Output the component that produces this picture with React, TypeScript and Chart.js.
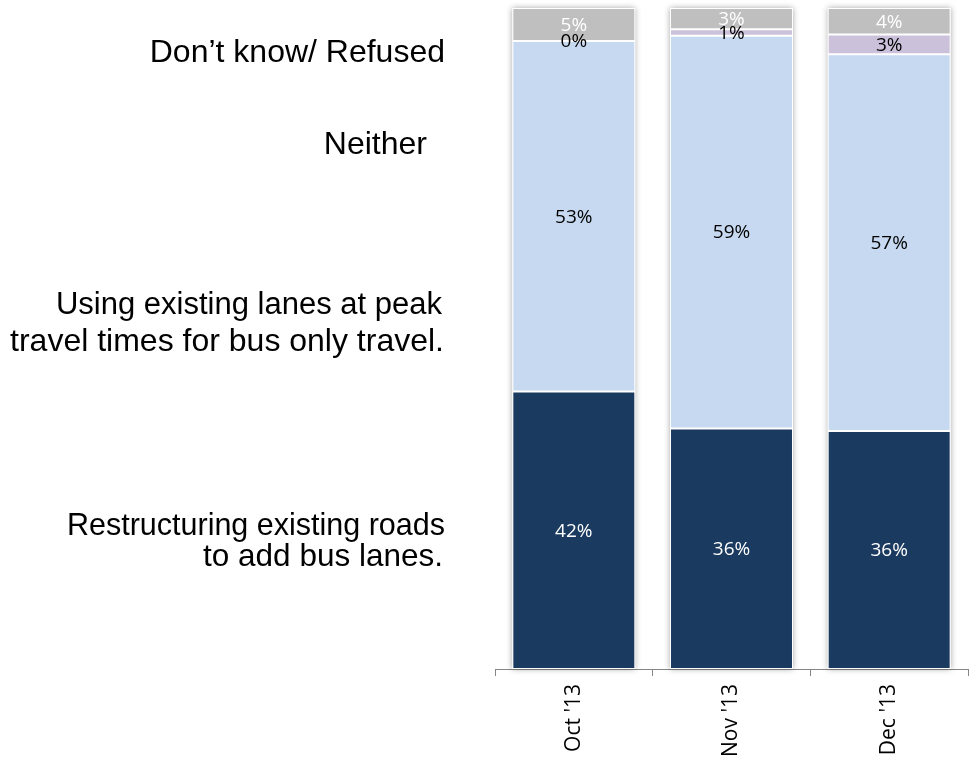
import React, { useEffect, useRef } from "react";
import { Chart, registerables } from "chart.js";

Chart.register(...registerables);

const categories = ["Oct '13", "Nov '13", "Dec '13"];
const restructuring = [42, 36.4, 36];
const usingLanes = [53, 59.4, 57];
const neither = [0, 1, 3];
const dontKnow = [5, 3.2, 4];

const seriesColors = ["#1B3A5F", "#C6D9F0", "#CCC1DA", "#BFBFBF"];
const labelColors = ["#FFFFFF", "#000000", "#000000", "#FFFFFF"];
const seriesNames = [
  "Restructuring existing roads to add bus lanes.",
  "Using existing lanes at peak travel times for bus only travel.",
  "Neither",
  "Don\u2019t know/ Refused",
];

const sideLines = [
  { text: "Don\u2019t know/ Refused", baseline: 63, right: 525, size: 32 },
  { text: "Neither", baseline: 155, right: 543, size: 32 },
  { text: "Using existing lanes at peak", baseline: 315, right: 528, size: 31 },
  { text: "travel times for bus only travel.", baseline: 352, right: 526, size: 32 },
  { text: "Restructuring existing roads", baseline: 536, right: 525, size: 30.5 },
  { text: "to add bus lanes.", baseline: 568, right: 527, size: 31.5 },
];

const shadowPlugin = {
  id: "stackShadow",
  beforeDatasetsDraw(chart: any) {
    const ctx = chart.ctx;
    const n = chart.data.datasets.length;
    const first = chart.getDatasetMeta(0);
    const last = chart.getDatasetMeta(n - 1);
    ctx.save();
    first.data.forEach((el: any, i: number) => {
      const top = last.data[i].y;
      const bottom = el.base;
      const w = el.width;
      ctx.shadowColor = "rgba(0,0,0,0.35)";
      ctx.shadowBlur = 6;
      ctx.fillStyle = "#FFFFFF";
      ctx.fillRect(el.x - w / 2, top, w, bottom - top);
    });
    ctx.restore();
  },
};

const labelPlugin = {
  id: "segLabels",
  afterDatasetsDraw(chart: any) {
    const ctx = chart.ctx;
    ctx.save();
    ctx.font = "19px 'Open Sans'";
    ctx.textAlign = "center";
    ctx.textBaseline = "middle";
    chart.data.datasets.forEach((ds: any, di: number) => {
      const meta = chart.getDatasetMeta(di);
      meta.data.forEach((el: any, i: number) => {
        const v = ds.data[i];
        ctx.fillStyle = labelColors[di];
        const cy = (el.y + el.base) / 2;
        ctx.fillText(Math.round(v) + "%", el.x, cy + 1);
      });
    });
    ctx.restore();
  },
};

export default function App() {
  const ref = useRef<HTMLCanvasElement>(null);
  useEffect(() => {
    if (!ref.current) return;
    const series = [restructuring, usingLanes, neither, dontKnow];
    const chart = new Chart(ref.current, {
      type: "bar",
      data: {
        labels: categories,
        datasets: series.map((d, i) => ({
          label: seriesNames[i],
          data: d,
          backgroundColor: seriesColors[i],
          borderColor: "#FFFFFF",
          borderWidth: 1,
          borderSkipped: false,
          categoryPercentage: 1,
          barPercentage: 0.78,
        })),
      },
      options: {
        animation: false,
        responsive: false,
        maintainAspectRatio: false,
        layout: { padding: { left: 495, right: 2, top: 8, bottom: 0 } },
        plugins: { legend: { display: false }, tooltip: { enabled: false } },
        scales: {
          x: {
            stacked: true,
            afterFit: (s: any) => {
              s.height = 95;
            },
            border: { display: true, color: "#868686", width: 1 },
            grid: {
              offset: true,
              drawOnChartArea: false,
              color: "#868686",
              tickLength: 7,
            },
            ticks: {
              minRotation: 90,
              maxRotation: 90,
              padding: 8,
              color: "#000000",
              font: { family: "'Open Sans'", size: 21 },
            },
          },
          y: {
            stacked: true,
            display: false,
            min: 0,
            max: 100,
          },
        },
      },
      plugins: [shadowPlugin, labelPlugin],
    });
    return () => chart.destroy();
  }, []);

  return (
    <div style={{ position: "absolute", left: 0, top: 0, width: 970, height: 764, background: "#FFFFFF" }}>
      <canvas ref={ref} width={970} height={764} style={{ position: "absolute", left: 0, top: 0 }} />
      {sideLines.map((s, i) => (
        <div
          key={i}
          style={{
            position: "absolute",
            right: s.right,
            top: s.baseline - 0.875 * s.size,
            fontFamily: "'Liberation Sans', Arial, sans-serif",
            fontSize: s.size,
            lineHeight: s.size + "px",
            textAlign: "right",
            whiteSpace: "nowrap",
            color: "#000000",
          }}
        >
          {s.text}
        </div>
      ))}
    </div>
  );
}
